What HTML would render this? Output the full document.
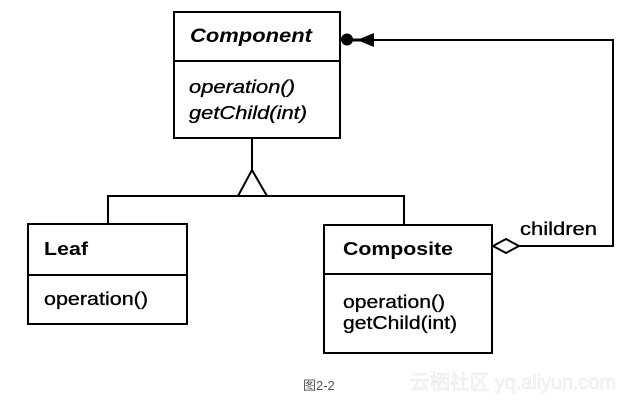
<!DOCTYPE html>
<html>
<head>
<meta charset="utf-8">
<style>
html,body{margin:0;padding:0;background:#fff;}
svg{display:block;}
text{font-family:"Liberation Sans","Noto Sans CJK SC",sans-serif;fill:#000;}
</style>
</head>
<body>
<svg width="626" height="402" viewBox="0 0 626 402" xmlns="http://www.w3.org/2000/svg">
  <!-- Component box -->
  <rect x="174" y="12" width="166" height="126" fill="#fff" stroke="#000" stroke-width="2"/>
  <line x1="174" y1="61" x2="340" y2="61" stroke="#000" stroke-width="2"/>
  <text x="190" y="42" font-size="19" font-weight="bold" font-style="italic" textLength="122" lengthAdjust="spacingAndGlyphs">Component</text>
  <text x="189" y="93" font-size="18" font-style="italic" textLength="106" lengthAdjust="spacingAndGlyphs" stroke="#000" stroke-width="0.3">operation()</text>
  <text x="189" y="119" font-size="18" font-style="italic" textLength="118" lengthAdjust="spacingAndGlyphs" stroke="#000" stroke-width="0.3">getChild(int)</text>

  <!-- inheritance -->
  <line x1="252" y1="138" x2="252" y2="171" stroke="#000" stroke-width="2"/>
  <polygon points="252,170 238,196 267,196" fill="#fff" stroke="#000" stroke-width="2" stroke-linejoin="miter"/>
  <line x1="107" y1="196" x2="405" y2="196" stroke="#000" stroke-width="2"/>
  <line x1="108" y1="196" x2="108" y2="224" stroke="#000" stroke-width="2"/>
  <line x1="404" y1="196" x2="404" y2="225" stroke="#000" stroke-width="2"/>

  <!-- Leaf box -->
  <rect x="28" y="224" width="159" height="100" fill="#fff" stroke="#000" stroke-width="2"/>
  <line x1="28" y1="275" x2="187" y2="275" stroke="#000" stroke-width="2"/>
  <text x="44" y="255" font-size="18" font-weight="bold" textLength="44" lengthAdjust="spacingAndGlyphs">Leaf</text>
  <text x="44" y="305" font-size="18" textLength="104" lengthAdjust="spacingAndGlyphs" stroke="#000" stroke-width="0.3">operation()</text>

  <!-- Composite box -->
  <rect x="324" y="225" width="168" height="128" fill="#fff" stroke="#000" stroke-width="2"/>
  <line x1="324" y1="274" x2="492" y2="274" stroke="#000" stroke-width="2"/>
  <text x="343" y="255" font-size="18" font-weight="bold" textLength="110" lengthAdjust="spacingAndGlyphs">Composite</text>
  <text x="343" y="308" font-size="18" textLength="102" lengthAdjust="spacingAndGlyphs" stroke="#000" stroke-width="0.3">operation()</text>
  <text x="343" y="329" font-size="18" textLength="114" lengthAdjust="spacingAndGlyphs" stroke="#000" stroke-width="0.3">getChild(int)</text>

  <!-- aggregation connector -->
  <polyline points="519,246 613,246 613,40 372,40" fill="none" stroke="#000" stroke-width="2"/>
  <polygon points="493,246 506,239 519,246 506,253" fill="#fff" stroke="#000" stroke-width="2"/>
  <text x="520" y="235" font-size="18" textLength="77" lengthAdjust="spacingAndGlyphs" stroke="#000" stroke-width="0.3">children</text>

  <!-- arrowhead + dot at Component -->
  <line x1="346" y1="40" x2="372" y2="40" stroke="#000" stroke-width="3"/>
  <polygon points="357,40 374,33 374,47" fill="#000"/>
  <circle cx="347" cy="39.5" r="6" fill="#000"/>

  <!-- caption -->
  <text x="303" y="390" font-size="13" style="fill:#555">图2-2</text>
  <text x="410" y="389" font-size="20" textLength="206" lengthAdjust="spacingAndGlyphs" style="fill:#f8f8f8;stroke:#e6e6e6;stroke-width:0.5">云栖社区 yq.aliyun.com</text>
</svg>
</body>
</html>
